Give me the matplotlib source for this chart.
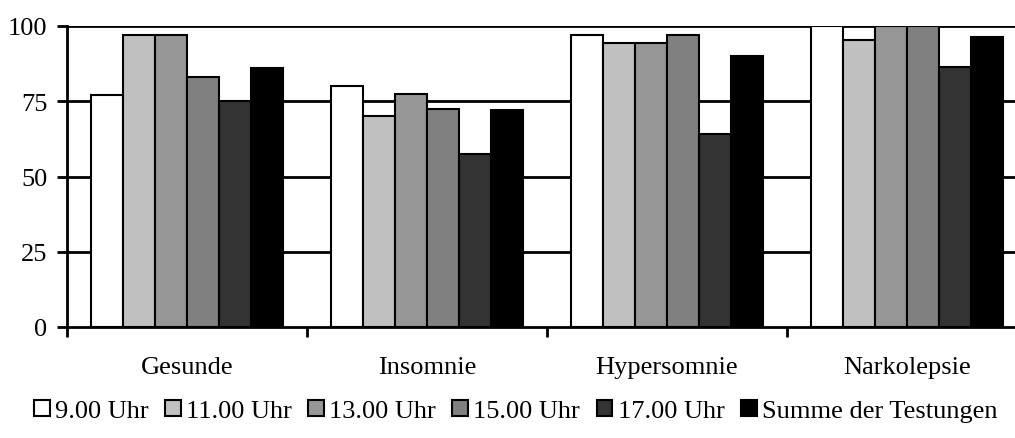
import matplotlib
matplotlib.use("Agg")
import matplotlib.pyplot as plt
import numpy as np

categories = ["Gesunde", "Insomnie", "Hypersomnie", "Narkolepsie"]
series_labels = ["9.00 Uhr", "11.00 Uhr", "13.00 Uhr", "15.00 Uhr", "17.00 Uhr", "Summe der Testungen"]
values = {
    "9.00 Uhr":            [77, 80, 97, 100],
    "11.00 Uhr":           [97, 70, 94.5, 95.5],
    "13.00 Uhr":           [97, 77.5, 94.5, 100],
    "15.00 Uhr":           [83, 72.5, 97, 100],
    "17.00 Uhr":           [75, 57.5, 64, 86.5],
    "Summe der Testungen": [86, 72, 90, 96.5],
}
colors = ["#FFFFFF", "#C0C0C0", "#969696", "#808080", "#333333", "#000000"]
yticks = [0, 25, 50, 75, 100]

plt.rcParams['font.family'] = ['Liberation Serif', 'DejaVu Serif']
FS = 19
fig = plt.figure(figsize=(10.15, 4.39), dpi=100)
W, H = 1015, 439
ax = fig.add_axes([67 / W, 1 - 328 / H, 960 / W, (328 - 27) / H])

n = len(series_labels)
bw = 0.8 / n
x = np.arange(len(categories))
for i, lab in enumerate(series_labels):
    ax.bar(x - 0.4 + bw * (i + 0.5), values[lab], width=bw, color=colors[i],
           edgecolor="black", linewidth=1.5, label=lab, zorder=3)

ax.set_xlim(-0.5, len(categories) - 0.5)
ax.set_ylim(0, 100)
ax.set_yticks(yticks)
ax.set_yticklabels([str(v) for v in yticks], fontsize=FS)
for v in yticks[1:]:
    ax.axhline(v, color="black", linewidth=2, zorder=1)

ax.set_xticks(np.arange(len(categories) + 1) - 0.5)
ax.set_xticklabels([])
ax.set_xticks(x, minor=True)
ax.set_xticklabels(categories, minor=True, fontsize=FS)
ax.tick_params(axis="x", which="major", direction="out", length=7, width=2)
ax.tick_params(axis="x", which="minor", length=0, pad=21)
ax.tick_params(axis="y", direction="out", length=7, width=2, pad=7)

for s in ["top", "right"]:
    ax.spines[s].set_visible(False)
for s in ["left", "bottom"]:
    ax.spines[s].set_linewidth(2)

fig.legend(loc="center", bbox_to_anchor=(0.508, 1 - 412 / H), ncol=6, frameon=False,
           fontsize=FS, handlelength=0.6, handleheight=0.6, handletextpad=0.2,
           columnspacing=0.62)

fig.savefig("out.png", dpi=100)
